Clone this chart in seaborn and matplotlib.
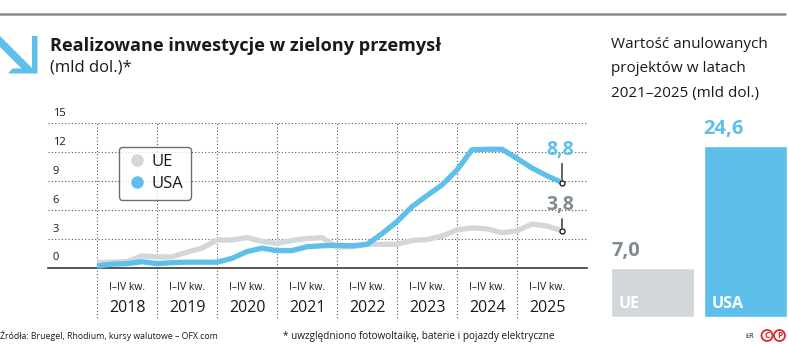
import numpy as np
import pandas as pd
import matplotlib
matplotlib.use("Agg")
import matplotlib.pyplot as plt
import matplotlib.transforms as mtransforms
from matplotlib.patches import Polygon
from matplotlib.lines import Line2D
import seaborn as sns

# ---------------- data ----------------
years = ["2018", "2019", "2020", "2021", "2022", "2023", "2024", "2025"]
quarter_label = "I\u2013IV kw."
ue = [0.5, 0.55, 0.6, 1.2, 1.1, 1.1, 1.6, 2.0, 2.85, 2.85, 3.1, 2.7, 2.5, 2.8, 3.0, 3.1,
      2.1, 2.15, 2.4, 2.4, 2.4, 2.8, 2.9, 3.25, 3.9, 4.1, 4.0, 3.6, 3.8, 4.5, 4.3, 3.8]
usa = [0.15, 0.35, 0.4, 0.6, 0.4, 0.5, 0.55, 0.55, 0.55, 0.95, 1.65, 2.0, 1.75, 1.75, 2.15, 2.25,
       2.3, 2.25, 2.4, 3.5, 4.75, 6.3, 7.45, 8.55, 10.1, 12.2, 12.25, 12.25, 11.3, 10.3, 9.5, 8.8]
series_names = ["UE", "USA"]
yticks = [0, 3, 6, 9, 12, 15]
bar_categories = ["UE", "USA"]
bar_values = [7.0, 24.6]

BLUE = "#5DBFEA"
GRAY = "#D2D7DA"
DARKGRAY = "#7E8B93"
GRID = "#555555"

sns.set_theme(style="white")
plt.rcParams["font.family"] = ["Open Sans", "DejaVu Sans"]
plt.rcParams["lines.scale_dashes"] = False

W, H = 788, 344
fig = plt.figure(figsize=(W / 100, H / 100), dpi=100)
fig.patch.set_facecolor("white")


def fx(x):
    return x / W


def fy(y):
    return 1 - y / H


# top rule
fig.add_artist(Line2D([fx(0), fx(785)], [fy(13.5), fy(13.5)], color="#8a8a8a", lw=1.8))

# arrow icon
arrow_px = [(0, 36), (32, 68), (32, 36), (37.5, 36), (37.5, 73.5), (8, 73.5), (12.5, 68.5),
            (21.5, 68.5), (0, 47)]
fig.add_artist(Polygon([(fx(a), fy(b)) for a, b in arrow_px], closed=True,
                       facecolor=BLUE, edgecolor="none"))

# titles
fig.text(fx(50), fy(46), "Realizowane inwestycje w zielony przemysł", fontsize=13.1,
         fontweight="bold", color="#1a1a1a", va="center", ha="left")
fig.text(fx(50), fy(68), "(mld dol.)*", fontsize=12, color="#1a1a1a", va="center", ha="left")

# ---------------- line chart ----------------
ax = fig.add_axes([fx(48), fy(267.5), (587 - 48) / W, (267.5 - 122.7) / H])
n = len(ue)
df = pd.DataFrame({
    "q": list(range(n)) * 2,
    "val": ue + usa,
    "kraj": [series_names[0]] * n + [series_names[1]] * n,
})
sns.lineplot(data=df, x="q", y="val", hue="kraj", palette={"UE": GRAY, "USA": BLUE},
             linewidth=3.8, legend=False, ax=ax, zorder=5)
for ln in ax.get_lines():
    ln.set_solid_joinstyle("round")
    ln.set_solid_capstyle("butt")
    ln.set_clip_on(False)

ax.set_xlim((48 - 97) / 15, (587 - 97) / 15)
ax.set_ylim(0, 15)
for s in ["top", "right", "left"]:
    ax.spines[s].set_visible(False)
ax.spines["bottom"].set_color("#3a3a3a")
ax.spines["bottom"].set_linewidth(1.2)
ax.set_xlabel("")
ax.set_ylabel("")
ax.set_yticks([])
ax.set_xticks(range(n))
ax.set_xticklabels([])
ax.tick_params(axis="x", direction="in", length=4, width=0.9, color="#3a3a3a", pad=0)

dots = (0, (0.8, 1.6))
for v in yticks[1:]:
    ax.axhline(v, color=GRID, lw=0.8, ls=dots, zorder=1)
for k in range(len(years)):
    ax.axvline(4 * k, ymin=-0.35, ymax=1, color=GRID, lw=0.8, ls=dots, zorder=1, clip_on=False)

ytr = mtransforms.blended_transform_factory(ax.transAxes, ax.transData)
for v in yticks:
    ax.annotate(str(v), xy=(0.009, v), xycoords=ytr, xytext=(0, 7), textcoords="offset pixels",
                ha="left", va="baseline", fontsize=8, color="#1a1a1a")

xtr = mtransforms.blended_transform_factory(ax.transData, fig.transFigure)
for k, yr in enumerate(years):
    ax.text(4 * k + 2, fy(288), quarter_label, transform=xtr, ha="center", va="center",
            fontsize=7.5, color="#1a1a1a")
    ax.text(4 * k + 2, fy(308.5), yr, transform=xtr, ha="center", va="center",
            fontsize=11.5, color="#1a1a1a")

# end annotations
for vals, col, lift_line, lift_text in [(usa, BLUE, 19, 23), (ue, DARKGRAY, 12, 16)]:
    xe, ye = n - 1, vals[-1]
    ax.annotate("", xy=(xe, ye), xytext=(0, lift_line), textcoords="offset pixels",
                arrowprops=dict(arrowstyle="-", color="#222222", lw=1.0, shrinkA=0, shrinkB=0))
    ax.plot([xe], [ye], marker="o", ms=3.6, mfc="white", mec="#222222", mew=1.0,
            zorder=8, clip_on=False)
    ax.annotate(f"{ye:.1f}".replace(".", ","), xy=(xe, ye), xytext=(-2, lift_text),
                textcoords="offset pixels", ha="center", va="bottom", fontsize=14,
                fontweight="bold", color=col)

# legend
handles = [Line2D([0], [0], marker="o", ls="none", ms=8, mfc=c, mec=c) for c in (GRAY, BLUE)]
leg = ax.legend(handles, series_names, loc="upper left",
                bbox_to_anchor=((119 - 48) / 539, (267.5 - 146.7) / 144.8),
                borderaxespad=0, fontsize=12, frameon=True, fancybox=True,
                borderpad=0.45, labelspacing=0.35, handlelength=1.2, handletextpad=0.3)
leg.get_frame().set_edgecolor("#4a4a4a")
leg.get_frame().set_linewidth(1.0)
leg.set_zorder(10)
for t in leg.get_texts():
    t.set_color("#1a1a1a")

# ---------------- right bar chart ----------------
for i, line in enumerate(["Wartość anulowanych", "projektów w latach", "2021\u20132025 (mld dol.)"]):
    fig.text(fx(611), fy(44 + 24.5 * i), line, fontsize=11, color="#1a1a1a",
             ha="left", va="center")

ax2 = fig.add_axes([fx(611), fy(316.7), 176 / W, (316.7 - 146) / H])
bdf = pd.DataFrame({"kraj": bar_categories, "wart": bar_values})
sns.barplot(data=bdf, x="kraj", y="wart", hue="kraj", palette={"UE": GRAY, "USA": BLUE},
            width=0.9, saturation=1, legend=False, ax=ax2)
ax2.set_xlim(-0.45, 1.45)
ax2.set_ylim(0, 24.6)
ax2.axis("off")
for i, (cat, v) in enumerate(zip(bar_categories, bar_values)):
    col = DARKGRAY if cat == "UE" else BLUE
    ax2.annotate(f"{v:.1f}".replace(".", ","), xy=(i - 0.45, v), xytext=(0, 7),
                 textcoords="offset pixels", ha="left", va="bottom", fontsize=14.5,
                 fontweight="bold", color=col, annotation_clip=False)
    ax2.annotate(cat, xy=(i - 0.45, 0), xytext=(8, 13), textcoords="offset pixels",
                 ha="left", va="center", fontsize=11.5, fontweight="bold", color="white")

# ---------------- footer ----------------
fig.text(fx(0), fy(336), "Źródła: Bruegel, Rhodium, kursy walutowe \u2013 OFX.com", fontsize=6.3,
         color="#1a1a1a", ha="left", va="center")
fig.text(fx(283), fy(336), "* uwzględniono fotowoltaikę, baterie i pojazdy elektryczne",
         fontsize=7.2, color="#1a1a1a", ha="left", va="center")
fig.text(fx(746), fy(336), "ŁR", fontsize=5.5, color="#1a1a1a", ha="left", va="center")
for cx, ch in [(767, "C"), (779.5, "P")]:
    fig.text(fx(cx), fy(335.5), ch, fontsize=6, fontweight="bold", color="#E3262B",
             ha="center", va="center",
             bbox=dict(boxstyle="circle,pad=0.12", fc="white", ec="#E3262B", lw=1.3))

fig.savefig("out.png", dpi=100, facecolor="white")
